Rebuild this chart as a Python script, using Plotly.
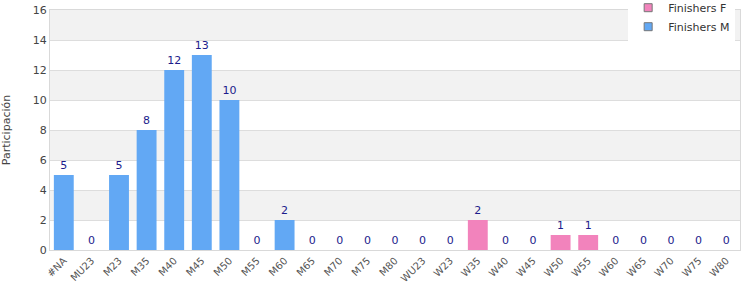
import plotly.graph_objects as go

categories = ["#NA", "MU23", "M23", "M35", "M40", "M45", "M50", "M55", "M60", "M65",
              "M70", "M75", "M80", "WU23", "W23", "W35", "W40", "W45", "W50", "W55",
              "W60", "W65", "W70", "W75", "W80"]
finishers_m = [5, 0, 5, 8, 12, 13, 10, 0, 2, 0, 0, 0, 0, None, None, None, None, None,
               None, None, None, None, None, None, None]
finishers_f = [None, None, None, None, None, None, None, None, None, None, None, None, None,
               0, 0, 2, 0, 0, 1, 1, 0, 0, 0, 0, 0]
y_ticks = [0, 2, 4, 6, 8, 10, 12, 14, 16]

blue = "#62a8f4"
pink = "#f283bc"
label_color = "#1c1c8c"

fig = go.Figure()
for name, vals, col in [("Finishers F", finishers_f, pink), ("Finishers M", finishers_m, blue)]:
    fig.add_trace(go.Bar(
        x=categories, y=vals, name=name, showlegend=False,
        marker=dict(color=col, line=dict(width=0)),
        text=[("" if v is None else str(v)) for v in vals],
        textposition="outside", cliponaxis=False,
        textfont=dict(color=label_color, size=11, family="DejaVu Sans"),
        width=0.72,
    ))
for name, col in [("Finishers F", pink), ("Finishers M", blue)]:
    fig.add_trace(go.Scatter(
        x=[None], y=[None], mode="markers", name=name,
        marker=dict(symbol="square", size=8, color=col, line=dict(color="#777777", width=1)),
    ))

shapes = []
for i in range(len(y_ticks) - 1):
    if i % 2 == 1:
        shapes.append(dict(type="rect", xref="paper", yref="y", x0=0, x1=1,
                           y0=y_ticks[i], y1=y_ticks[i + 1],
                           fillcolor="#f2f2f2", line=dict(width=0), layer="below"))

fig.update_layout(
    width=750, height=300,
    margin=dict(l=50, r=10, t=10, b=50, autoexpand=False),
    paper_bgcolor="white", plot_bgcolor="white",
    barmode="overlay",
    font=dict(family="DejaVu Sans", size=11, color="#333333"),
    shapes=shapes,
    showlegend=True,
    legend=dict(x=0.993, xanchor="right", y=1.07, yanchor="top",
                bgcolor="white", font=dict(size=11, color="#333333"),
                traceorder="normal", itemwidth=30, tracegroupgap=0,
                borderwidth=0),
    xaxis=dict(type="category", tickangle=-45, tickfont=dict(size=10, color="#555555"),
               showline=True, linecolor="#d9d9d9", mirror=True, showgrid=False,
               ticks="", range=[-0.5, len(categories) - 0.5]),
    yaxis=dict(range=[0, 16], tickvals=y_ticks, tickfont=dict(size=11, color="#444444"),
               showline=True, linecolor="#d9d9d9", mirror=True,
               showgrid=True, gridcolor="#dddddd", zeroline=False,
               title=dict(text="Participación", font=dict(size=11, color="#444444"), standoff=22)),
)

fig.write_html("out.html")
